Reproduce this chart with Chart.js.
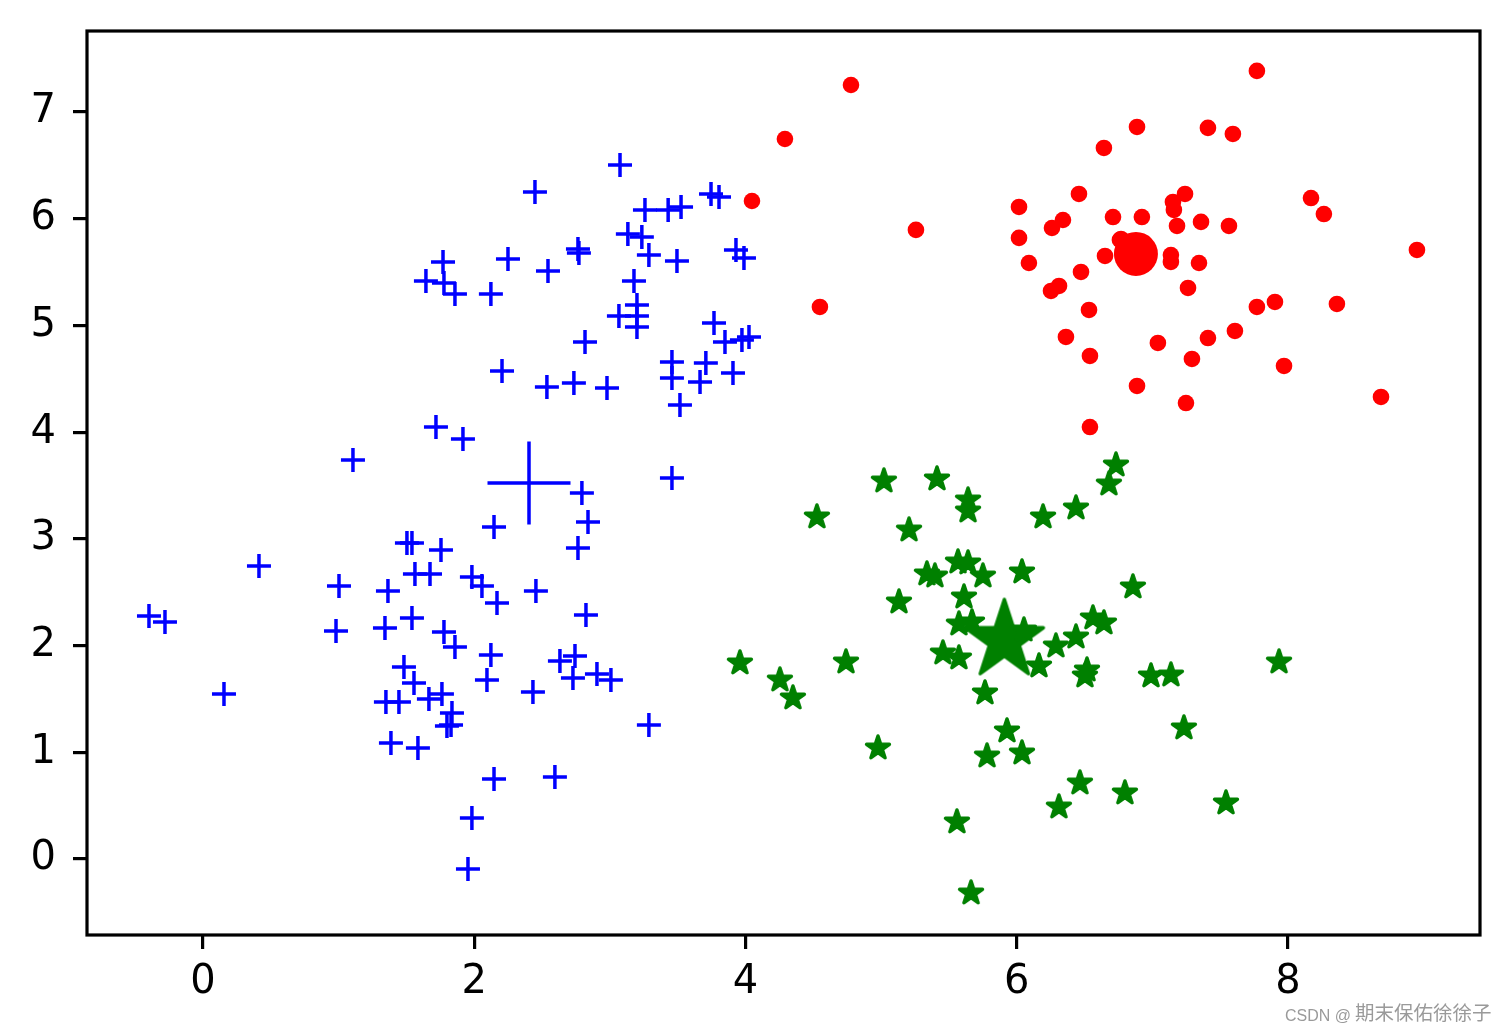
<!DOCTYPE html>
<html><head><meta charset="utf-8">
<script src="https://cdn.jsdelivr.net/npm/chart.js@4.4.0/dist/chart.umd.min.js"></script>
<style>html,body{margin:0;padding:0;background:#fff;overflow:hidden}#wrap{width:1510px;height:1035px;position:relative}</style>
</head><body><div id="wrap"><canvas id="c"></canvas></div>
<script>
// ---- data ----
const blueX = [3.075,2.448,3.746,3.805,3.259,3.430,3.525,3.133,3.236,1.770,2.249,2.765,2.772,3.288,3.495,3.930,3.989,1.644,1.777,2.544,1.858,2.123,3.178,3.200,3.067,3.200,3.200,3.768,3.849,3.974,4.026,2.817,3.458,3.708,2.205,2.536,2.735,2.979,3.458,3.665,3.908,3.517,1.718,1.917,1.106,3.458,
  2.794,2.839,2.146,2.765,0.413,1.504,1.541,1.755,1.563,1.674,1.003,1.364,1.983,2.057,2.168,2.455,-0.398,-0.280,0.981,1.342,1.541,1.777,2.824,1.858,2.123,1.482,0.155,1.556,2.094,2.433,2.632,2.743,2.728,2.905,3.008,1.349,1.445,1.666,1.762,1.836,1.799,1.829,1.386,1.585,3.288,2.146,2.595,1.983,1.954];
const blueY = [6.504,6.251,6.232,6.204,6.082,6.082,6.110,5.857,5.829,5.595,5.623,5.717,5.679,5.660,5.604,5.707,5.632,5.417,5.398,5.510,5.295,5.295,5.417,5.192,5.089,5.089,4.986,5.023,4.845,4.864,4.892,4.845,4.658,4.648,4.573,4.423,4.461,4.414,4.508,4.470,4.554,4.255,4.048,3.936,3.739,3.570,
  3.430,3.158,3.111,2.914,2.746,2.961,2.961,2.896,2.671,2.671,2.558,2.512,2.643,2.558,2.399,2.512,2.277,2.221,2.137,2.165,2.259,2.127,2.287,1.987,1.912,1.799,1.546,1.649,1.677,1.565,1.856,1.902,1.696,1.734,1.677,1.471,1.471,1.499,1.546,1.368,1.246,1.256,1.087,1.040,1.256,0.750,0.768,0.384,-0.094];

const redX = [4.778,4.291,4.048,5.257,4.549,6.017,6.017,6.090,6.459,6.341,6.260,6.643,6.887,6.710,6.923,6.651,6.761,6.474,6.312,6.253,6.533,6.363,6.540,6.887,6.540,7.771,7.410,7.594,7.241,7.152,7.159,7.182,7.359,7.565,8.170,8.265,8.951,6.769,7.137,7.137,7.344,7.263,7.771,7.904,8.361,7.609,7.410,7.041,7.292,7.971,7.248,8.686];
const redY = [7.253,6.747,6.166,5.895,5.173,6.110,5.820,5.585,6.232,5.988,5.913,6.663,6.860,6.016,6.016,5.651,5.801,5.501,5.370,5.323,5.145,4.892,4.714,4.433,4.048,7.385,6.851,6.794,6.232,6.157,6.082,5.932,5.970,5.932,6.194,6.044,5.707,5.810,5.660,5.595,5.585,5.351,5.173,5.220,5.201,4.948,4.882,4.836,4.686,4.620,4.273,4.330];

const greenX = [5.021,5.412,5.641,5.641,4.527,5.206,6.194,5.567,5.641,5.338,5.397,5.751,6.039,5.611,5.132,5.574,5.670,5.456,5.574,6.053,6.164,3.959,4.254,4.350,4.741,5.766,5.928,5.781,6.039,4.977,5.559,5.663,6.732,6.680,6.437,6.857,6.562,6.643,6.437,6.289,6.518,6.503,6.990,7.137,7.934,7.233,6.466,6.311,6.798,7.543];
const greenY = [3.542,3.561,3.364,3.261,3.205,3.083,3.205,2.783,2.774,2.671,2.652,2.652,2.690,2.455,2.408,2.202,2.221,1.930,1.884,2.146,1.809,1.837,1.677,1.509,1.846,1.556,1.200,0.965,0.993,1.040,0.347,-0.319,3.692,3.514,3.289,2.549,2.259,2.212,2.080,1.996,1.771,1.715,1.715,1.724,1.846,1.228,0.712,0.487,0.619,0.525];

// cluster centres: blue, red, green
const centroidX = [2.404, 6.879, 5.909];
const centroidY = [3.524, 5.670, 2.048];

const xTicks = [0, 2, 4, 6, 8];
const yTicks = [0, 1, 2, 3, 4, 5, 6, 7];
const watermarkLatin = "CSDN @";
const watermarkCJK = "期末保佑徐徐子";

// ---- helpers ----
const pts = (xs, ys) => xs.map((x, i) => ({x, y: ys[i]}));

function makeStar(R, lw, color) {
  const pad = Math.ceil(lw) + 2;
  const size = Math.ceil(2 * (R + pad));
  const cv = document.createElement('canvas');
  cv.width = size; cv.height = size;
  const g = cv.getContext('2d');
  const c = size / 2, r2 = R * 0.381966;
  g.beginPath();
  for (let k = 0; k < 10; k++) {
    const rr = k % 2 === 0 ? R : r2;
    const a = -Math.PI / 2 + k * Math.PI / 5;
    const px = c + rr * Math.cos(a), py = c + rr * Math.sin(a);
    if (k === 0) g.moveTo(px, py); else g.lineTo(px, py);
  }
  g.closePath();
  g.fillStyle = color; g.fill();
  g.lineJoin = 'round'; g.lineWidth = lw; g.strokeStyle = color; g.stroke();
  return cv;
}
const smallStar = makeStar(12, 3.5, '#008000');
const bigStar = makeStar(41, 3.5, '#008000');

const framePlugin = {
  id: 'frame',
  afterDraw(chart) {
    const {ctx, chartArea: a} = chart;
    ctx.save();
    ctx.strokeStyle = '#000'; ctx.lineWidth = 3.2;
    ctx.strokeRect(a.left, a.top, a.right - a.left, a.bottom - a.top);
    ctx.fillStyle = '#9a9a9a';
    ctx.textBaseline = 'alphabetic';
    ctx.textAlign = 'left';
    ctx.font = '16px "Liberation Sans", Arial, sans-serif';
    ctx.fillText(watermarkLatin, 1285, 1021);
    ctx.font = '19.5px "Noto Sans CJK SC", sans-serif';
    ctx.fillText(watermarkCJK, 1355, 1020);
    ctx.restore();
  }
};

const tickFont = {family: 'DejaVu Sans', size: 40};
const noPad = s => { s.paddingTop = 0; s.paddingBottom = 0; s.paddingLeft = 0; s.paddingRight = 0; };

new Chart(document.getElementById('c'), {
  type: 'scatter',
  data: {
    datasets: [
      {data: pts(blueX, blueY), pointStyle: 'cross', pointRadius: 12, borderColor: '#0000ff', backgroundColor: '#0000ff', pointBorderWidth: 3.5},
      {data: pts(redX, redY), pointStyle: 'circle', pointRadius: 8.3, borderWidth: 0, pointBorderWidth: 0, backgroundColor: '#ff0000', borderColor: '#ff0000'},
      {data: pts(greenX, greenY), pointStyle: smallStar, pointRadius: 12, backgroundColor: '#008000', borderColor: '#008000'},
      {data: [{x: centroidX[0], y: centroidY[0]}], pointStyle: 'cross', pointRadius: 41.5, borderColor: '#0000ff', backgroundColor: '#0000ff', pointBorderWidth: 3.5},
      {data: [{x: centroidX[1], y: centroidY[1]}], pointStyle: 'circle', pointRadius: 22, pointBorderWidth: 0, backgroundColor: '#ff0000', borderColor: '#ff0000'},
      {data: [{x: centroidX[2], y: centroidY[2]}], pointStyle: bigStar, pointRadius: 41, backgroundColor: '#008000', borderColor: '#008000'}
    ]
  },
  options: {
    responsive: true, maintainAspectRatio: false, animation: false, devicePixelRatio: 1,
    events: [],
    layout: {autoPadding: false, padding: {top: 31, right: 30, left: 0, bottom: 0}},
    plugins: {legend: {display: false}, tooltip: {enabled: false}},
    scales: {
      x: {
        type: 'linear', min: -0.855, max: 9.416,
        afterBuildTicks: s => { s.ticks = xTicks.map(v => ({value: v})); },
        afterFit: s => { s.height = 100; noPad(s); },
        grid: {drawOnChartArea: false, drawTicks: true, tickLength: 14, lineWidth: 3.2, color: '#000'},
        border: {display: false},
        ticks: {font: tickFont, color: '#000', padding: 10, maxRotation: 0, autoSkip: false}
      },
      y: {
        type: 'linear', min: -0.712, max: 7.759,
        afterBuildTicks: s => { s.ticks = yTicks.map(v => ({value: v})); },
        afterFit: s => { s.width = 87; noPad(s); },
        grid: {drawOnChartArea: false, drawTicks: true, tickLength: 14, lineWidth: 3.2, color: '#000'},
        border: {display: false},
        ticks: {font: tickFont, color: '#000', padding: 17, autoSkip: false}
      }
    }
  },
  plugins: [framePlugin]
});
</script>
</body></html>
